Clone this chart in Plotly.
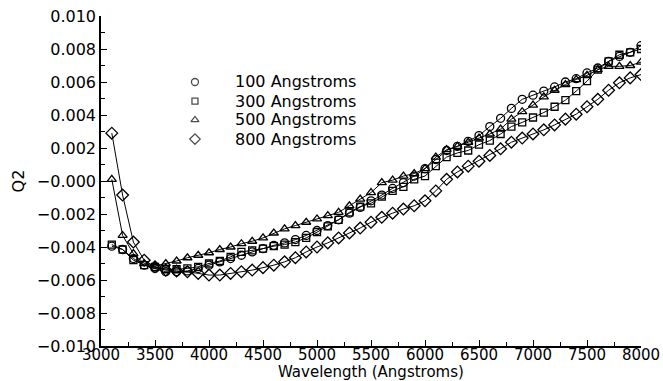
import plotly.graph_objects as go

wavelength = list(range(3100, 8001, 100))

q2_100 = [-3.95, -4.15, -4.7, -5.1, -5.3, -5.5, -5.5, -5.45, -5.3, -5.1,
          -4.9, -4.7, -4.5, -4.3, -4.1, -3.9, -3.75, -3.55, -3.3, -3.0,
          -2.7, -2.35, -1.95, -1.6, -1.2, -0.85, -0.45, -0.1, 0.3, 0.75,
          1.3, 1.85, 2.1, 2.4, 2.75, 3.3, 3.8, 4.4, 4.95, 5.2,
          5.45, 5.7, 6.0, 6.2, 6.55, 6.85, 7.25, 7.55, 7.8, 8.2]
q2_300 = [-3.85, -4.15, -4.8, -5.1, -5.2, -5.35, -5.35, -5.3, -5.2, -5.0,
          -4.85, -4.6, -4.3, -4.2, -4.1, -3.95, -3.85, -3.7, -3.45, -3.1,
          -2.75, -2.35, -1.9, -1.55, -1.35, -0.95, -0.6, -0.35, 0.1, 0.3,
          0.9, 1.45, 1.7, 1.85, 2.2, 2.45, 2.85, 3.3, 3.55, 3.85,
          4.15, 4.5, 4.9, 5.45, 6.05, 6.75, 7.25, 7.65, 7.8, 8.0]
q2_500 = [0.1, -3.3, -4.4, -5.0, -5.15, -5.0, -4.85, -4.65, -4.5, -4.35,
          -4.15, -4.0, -3.8, -3.65, -3.45, -3.15, -2.9, -2.7, -2.5, -2.3,
          -2.1, -1.9, -1.5, -1.1, -0.7, -0.1, 0.05, 0.3, 0.45, 0.75,
          1.45, 1.9, 2.1, 2.35, 2.6, 2.85, 3.15, 3.75, 4.2, 4.6,
          5.1, 5.5, 5.85, 6.15, 6.4, 6.75, 6.95, 6.95, 7.0, 7.2]
q2_800 = [2.9, -0.85, -3.7, -4.8, -5.2, -5.4, -5.45, -5.5, -5.6, -5.7,
          -5.7, -5.6, -5.5, -5.4, -5.25, -5.1, -4.9, -4.65, -4.3, -4.0,
          -3.75, -3.45, -3.15, -2.85, -2.5, -2.2, -1.95, -1.7, -1.5, -1.2,
          -0.6, 0.1, 0.55, 0.9, 1.2, 1.55, 1.95, 2.35, 2.6, 2.85,
          3.1, 3.4, 3.75, 4.05, 4.5, 4.95, 5.5, 5.95, 6.25, 6.45]

series_names = ["100 Angstroms", "300 Angstroms", "500 Angstroms", "800 Angstroms"]
series_values = [q2_100, q2_300, q2_500, q2_800]
symbols = ["circle-open", "square-open", "triangle-up-open", "diamond-open"]
sizes = [8, 7, 8, 9]

y_tick_vals = [0.010, 0.008, 0.006, 0.004, 0.002, 0.0, -0.002, -0.004, -0.006, -0.008, -0.010]
y_tick_text = ["0.010", "0.008", "0.006", "0.004", "0.002", "\u22120.000", "\u22120.002",
               "\u22120.004", "\u22120.006", "\u22120.008", "\u22120.010"]
x_tick_vals = list(range(3000, 8001, 500))

# legend placement (fractions of the plotting area)
LEG_SYM_X = 0.174
LEG_TEXT_X = 0.244
LEG_ROWS_Y = [0.800, 0.742, 0.685, 0.627]

FONT = "DejaVu Sans"
fig = go.Figure()

for name, vals, sym, sz in zip(series_names, series_values, symbols, sizes):
    fig.add_trace(go.Scatter(
        x=wavelength, y=[v / 1000 for v in vals], mode="lines+markers",
        line=dict(color="black", width=1),
        marker=dict(symbol=sym, size=sz, color="black", line=dict(width=1.3, color="black")),
        showlegend=False, name=name))

# manual legend: symbols on an overlay axis spanning the plot area
fig.add_trace(go.Scatter(
    x=[LEG_SYM_X] * 4, y=LEG_ROWS_Y, mode="markers", xaxis="x2", yaxis="y2",
    marker=dict(symbol=symbols, size=[s - 1 for s in sizes], color="black",
                line=dict(width=1.3, color="black")),
    showlegend=False, hoverinfo="skip"))
for name, yy in zip(series_names, LEG_ROWS_Y):
    fig.add_annotation(x=LEG_TEXT_X, y=yy, xref="paper", yref="paper", text=name,
                       showarrow=False, xanchor="left", yanchor="middle",
                       font=dict(family=FONT, size=16, color="black"))

# x-axis title
fig.add_annotation(x=0.5, y=-0.080, xref="paper", yref="paper",
                   text="Wavelength (Angstroms)", showarrow=False,
                   xanchor="center", yanchor="middle",
                   font=dict(family=FONT, size=15, color="black"))

fig.update_layout(
    width=663, height=381,
    margin=dict(l=101, r=22, t=16, b=35),
    paper_bgcolor="white", plot_bgcolor="white",
    font=dict(family=FONT, size=16, color="black"),
    showlegend=False,
    xaxis=dict(range=[3000, 8000], tickvals=x_tick_vals, showgrid=False, zeroline=False,
               showline=True, linecolor="black", linewidth=1.5, mirror=False,
               ticks="inside", ticklen=6, tickwidth=1, tickcolor="black",
               minor=dict(dtick=250, ticks="inside", ticklen=4, tickcolor="black"),
               tickfont=dict(size=15), automargin=False, ticklabelstandoff=-6),
    yaxis=dict(range=[-0.010, 0.010], tickvals=y_tick_vals, ticktext=y_tick_text,
               showgrid=False, zeroline=False,
               showline=True, linecolor="black", linewidth=1.5, mirror=False,
               ticks="inside", ticklen=6, tickwidth=1, tickcolor="black",
               minor=dict(dtick=0.001, ticks="inside", ticklen=4, tickcolor="black"),
               tickfont=dict(size=16), automargin=False,
               title=dict(text="Q2", font=dict(size=16), standoff=8)),
    xaxis2=dict(range=[0, 1], overlaying="x", visible=False, fixedrange=True),
    yaxis2=dict(range=[0, 1], overlaying="y", visible=False, fixedrange=True),
)

fig.write_html("out.html")
